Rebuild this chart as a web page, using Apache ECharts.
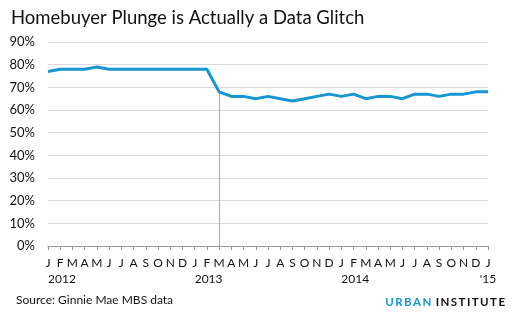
<!DOCTYPE html>
<html>
<head>
<meta charset="utf-8">
<script src="https://cdn.jsdelivr.net/npm/echarts@6/dist/echarts.min.js"></script>
<style>
  html, body { margin: 0; padding: 0; background: #fff; }
  #chart { width: 516px; height: 321px; }
</style>
</head>
<body>
<div id="chart"></div>
<script>
// Monthly periods, Jan 2012 through Jan 2015
const months = ['J','F','M','A','M','J','J','A','S','O','N','D',
                'J','F','M','A','M','J','J','A','S','O','N','D',
                'J','F','M','A','M','J','J','A','S','O','N','D',
                'J'];
// Year labels shown under the first month of each year
const yearLabels = ['2012','','','','','','','','','','','',
                    '2013','','','','','','','','','','','',
                    '2014','','','','','','','','','','','',
                    "'15"];
// Share of Ginnie Mae MBS loans classified as homebuyer loans (%)
const shareValues = [77, 78, 78, 78, 79, 78, 78, 78, 78, 78, 78, 78,
                     78, 78, 68, 66, 66, 65, 66, 65, 64, 65, 66, 67,
                     66, 67, 65, 66, 66, 65, 67, 67, 66, 67, 67, 68,
                     68];
// Month where the reporting change took effect (Mar 2013)
const breakIndex = 14;
const yTicks = [0, 10, 20, 30, 40, 50, 60, 70, 80, 90];

const FONT = 'Lato';
const chart = echarts.init(document.getElementById('chart'), null, { renderer: 'canvas' });

const idx = months.map((_, i) => i);
const last = months.length - 1;

chart.setOption({
  animation: false,
  textStyle: { fontFamily: FONT },
  title: {
    text: 'Homebuyer Plunge is Actually a Data Glitch',
    left: 6, top: 4,
    textStyle: { fontFamily: FONT, fontSize: 18.5, fontWeight: 'normal', color: '#111' }
  },
  grid: { left: 48, right: 28, top: 42, bottom: 75, containLabel: false },
  xAxis: [
    {
      type: 'category', data: idx, boundaryGap: false,
      axisLine: { lineStyle: { color: '#999', width: 1 } },
      axisTick: { show: true, length: 4, interval: 0, lineStyle: { color: '#999' } },
      axisLabel: {
        interval: 0, margin: 9, fontSize: 12, lineHeight: 16, color: '#111', fontFamily: FONT,
        // the final month carries its short year label beneath, centred
        formatter: (v) => {
          const i = Number(v);
          return i === last ? months[i] + '\n' + yearLabels[i] : months[i];
        }
      },
      splitLine: { show: false }
    },
    {
      type: 'category', data: idx, boundaryGap: false, position: 'bottom',
      axisLine: { show: false }, axisTick: { show: false },
      axisLabel: {
        interval: 0, margin: 27, fontSize: 12, color: '#111', fontFamily: FONT, align: 'left',
        formatter: (v) => {
          const i = Number(v);
          return i < last ? yearLabels[i] : '';
        }
      }
    }
  ],
  yAxis: {
    type: 'value', min: 0, max: 90, interval: 10,
    axisLine: { show: false }, axisTick: { show: false },
    axisLabel: {
      margin: 13, fontSize: 13, color: '#111', fontFamily: FONT,
      formatter: (v) => (yTicks.includes(v) ? v + '%' : '')
    },
    splitLine: { lineStyle: { color: '#d9d9d9', width: 1 } }
  },
  series: [
    {
      type: 'line', data: shareValues, xAxisIndex: 0,
      symbol: 'none', smooth: false,
      lineStyle: { color: '#1696d2', width: 3 },
      z: 3,
      markLine: {
        silent: true, symbol: 'none', label: { show: false },
        lineStyle: { color: '#aaa', width: 1, type: 'solid' },
        data: [[
          { coord: [breakIndex, shareValues[breakIndex]] },
          { coord: [breakIndex, 0] }
        ]],
        z: 2
      }
    }
  ],
  graphic: [
    {
      type: 'text', left: 16, top: 294,
      style: { text: 'Source: Ginnie Mae MBS data', font: '12px Lato', fill: '#111' }
    },
    {
      type: 'text', right: 11, top: 296,
      style: {
        text: '{u|U\u2009R\u2009B\u2009A\u2009N}\u2009\u2009\u2009{i|I\u2009N\u2009S\u2009T\u2009I\u2009T\u2009U\u2009T\u2009E}',
        rich: {
          u: { fontFamily: FONT, fontSize: 11.5, fontWeight: 'bold', fill: '#1696d2', color: '#1696d2' },
          i: { fontFamily: FONT, fontSize: 11.5, fontWeight: 'bold', fill: '#111', color: '#111' }
        },
        font: 'bold 11.5px Lato'
      }
    }
  ]
});
</script>
</body>
</html>
